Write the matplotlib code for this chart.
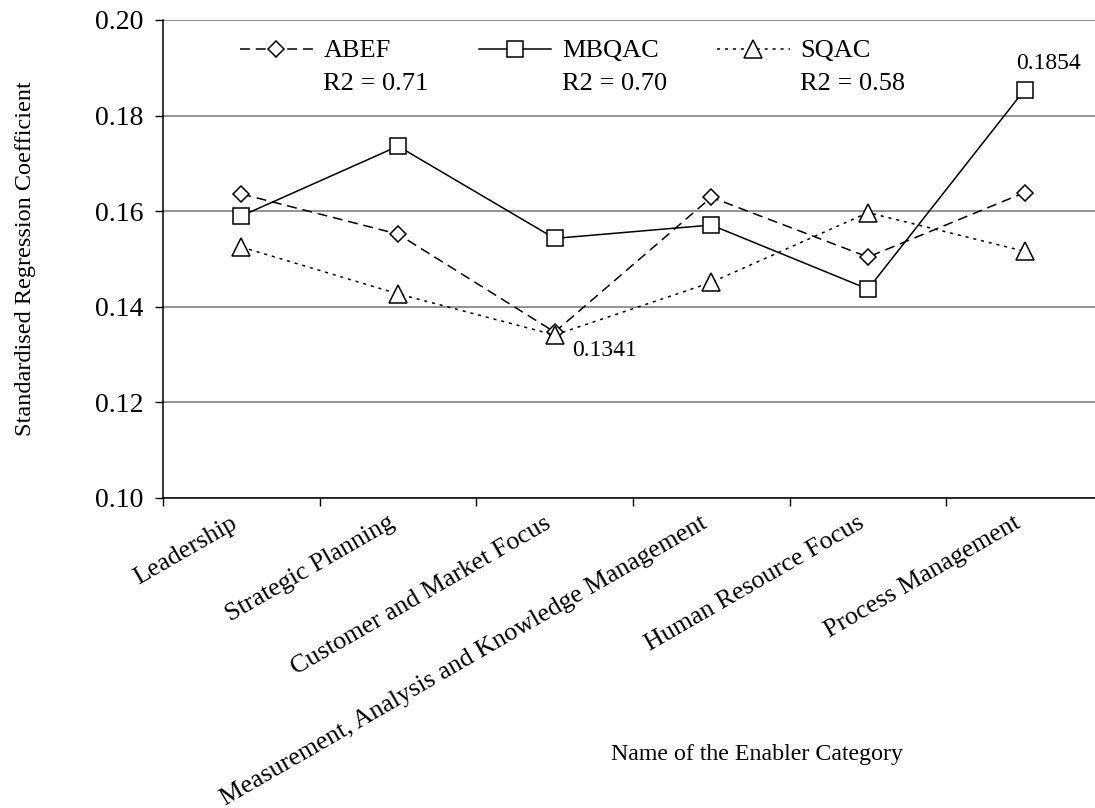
import matplotlib
matplotlib.use("Agg")
import matplotlib.pyplot as plt
import matplotlib.transforms as mtransforms
import numpy as np

categories = ["Leadership", "Strategic Planning", "Customer and Market Focus",
              "Measurement, Analysis and Knowledge Management",
              "Human Resource Focus", "Process Management"]
abef = [0.1636, 0.1552, 0.1347, 0.1629, 0.1504, 0.1639]
mbqac = [0.1590, 0.1736, 0.1543, 0.1571, 0.1437, 0.1854]
sqac = [0.1525, 0.1427, 0.1341, 0.1451, 0.1597, 0.1516]
series_names = ["ABEF", "MBQAC", "SQAC"]
r2_values = [0.71, 0.70, 0.58]
y_ticks = [0.10, 0.12, 0.14, 0.16, 0.18, 0.20]

plt.rcParams["font.family"] = ["Liberation Serif", "DejaVu Serif"]

fig = plt.figure(figsize=(10.95, 8.08), dpi=100)
ax = fig.add_axes([0.1489, 0.3837, 0.8584, 0.5916])

x = list(range(len(categories)))
mk = dict(color="black", lw=1.1, markerfacecolor="white",
          markeredgecolor="black", markeredgewidth=1.1)
labels = [f"{n}\nR2 = {r:.2f}" for n, r in zip(series_names, r2_values)]
ax.plot(x, abef, linestyle=(0, (6.5, 3.8)), marker="D", markersize=8.5,
        label=labels[0], **mk)
ax.plot(x, mbqac, linestyle="-", marker="s", markersize=11.5,
        label=labels[1], **mk)
ax.plot(x, sqac, linestyle=(0, (2, 3.2)), marker="^", markersize=12.5,
        label=labels[2], **mk)

ax.set_xlim(-0.5, len(categories) - 0.5)
ax.set_ylim(0.10, 0.20)
ax.set_yticks(y_ticks)
ax.set_yticklabels([f"{v:.2f}" for v in y_ticks])
ax.yaxis.grid(True, color="#808080", lw=1.2)
ax.set_axisbelow(True)

# category labels at centres, tick marks at the boundaries
ax.set_xticks(x)
ax.set_xticklabels(categories, rotation=30, ha="right", rotation_mode="anchor")
ax.set_xticks([i - 0.5 for i in range(len(categories) + 1)], minor=True)
ax.tick_params(axis="x", which="major", length=0, pad=10, labelsize=18.7)
ax.tick_params(axis="x", which="minor", length=6, width=1, direction="out")
ax.tick_params(axis="y", length=6, width=1, direction="out", pad=8, labelsize=20)
shift = mtransforms.ScaledTranslation(-0.11, 0, fig.dpi_scale_trans)
for lbl in ax.get_xticklabels():
    lbl.set_transform(lbl.get_transform() + shift)

for side in ["top", "right"]:
    ax.spines[side].set_visible(False)
ax.spines["left"].set_linewidth(1.1)
ax.spines["bottom"].set_linewidth(1.1)

ax.set_ylabel("Standardised Regression Coefficient", fontsize=17.5)
ax.yaxis.set_label_coords(-0.135, 0.5)
ax.text(0.632, -0.536, "Name of the Enabler Category", transform=ax.transAxes,
        ha="center", va="center", fontsize=17.2)

leg = ax.legend(loc="upper left", bbox_to_anchor=(0.082, 0.9575), ncol=3,
                frameon=False, fontsize=19, borderpad=0, borderaxespad=0,
                handlelength=2.75, handletextpad=0.4, columnspacing=1.9,
                numpoints=1)
# legend handles sit beside the first line of each two-line label
for t in leg.get_texts():
    t.set_linespacing(1.64)
for h in leg.legend_handles:
    h.set_ydata(np.asarray(h.get_ydata()) + 13)

ax.annotate(f"{mbqac[5]:.4f}", xy=(5, mbqac[5]), xytext=(17, 19),
            textcoords="offset points", ha="center", va="center", fontsize=17)
ax.annotate(f"{sqac[2]:.4f}", xy=(2, sqac[2]), xytext=(36, -11),
            textcoords="offset points", ha="center", va="center", fontsize=17)

fig.savefig("out.png", dpi=100)
